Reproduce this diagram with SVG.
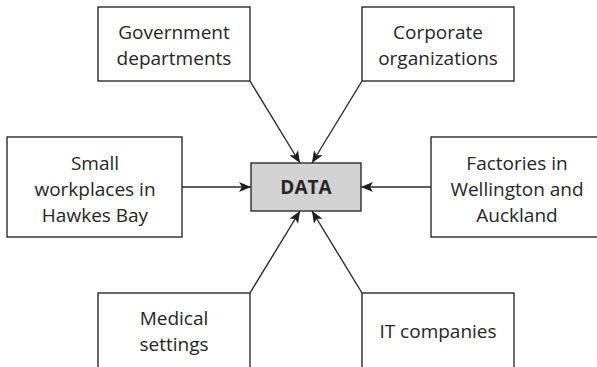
<svg xmlns="http://www.w3.org/2000/svg" width="597" height="367" viewBox="0 0 597 367">
  <style>
    .box { fill: #ffffff; stroke: #2b2b2b; stroke-width: 1.4; }
    .hub { fill: #d3d3d3; stroke: #2b2b2b; stroke-width: 1.4; }
    .lbl { font-family: "Open Sans", "Noto Sans", sans-serif; font-size: 19px; fill: #262626; text-anchor: middle; }
    .hubl { font-family: "Open Sans", "Noto Sans", sans-serif; font-size: 19px; font-weight: bold; fill: #262626; text-anchor: middle; }
    .link { stroke: #2b2b2b; stroke-width: 1.4; fill: none; marker-end: url(#arrow); }
  </style>
  <defs>
    <marker id="arrow" viewBox="0 0 12 10" refX="12" refY="5" markerWidth="12" markerHeight="10" markerUnits="userSpaceOnUse" orient="auto">
      <path d="M0,0 L12,5 L0,10 L3,5 Z" fill="#1e1e1e"/>
    </marker>
  </defs>

  <g id="connectors">
    <line class="link" x1="250" y1="81" x2="300" y2="163"/>
    <line class="link" x1="362" y1="81" x2="312" y2="163"/>
    <line class="link" x1="182" y1="187" x2="251" y2="187"/>
    <line class="link" x1="431" y1="187" x2="361" y2="187"/>
    <line class="link" x1="250" y1="293" x2="300" y2="211"/>
    <line class="link" x1="362" y1="293" x2="312" y2="211"/>
  </g>

  <g id="government">
    <rect class="box" x="98" y="7" width="152" height="74"/>
    <text class="lbl" x="174" y="39">Government</text>
    <text class="lbl" x="174" y="65">departments</text>
  </g>

  <g id="corporate">
    <rect class="box" x="362" y="7" width="152" height="74"/>
    <text class="lbl" x="438" y="39">Corporate</text>
    <text class="lbl" x="438" y="65">organizations</text>
  </g>

  <g id="small-workplaces">
    <rect class="box" x="7" y="137" width="175" height="100"/>
    <text class="lbl" x="95" y="170">Small</text>
    <text class="lbl" x="95" y="196">workplaces in</text>
    <text class="lbl" x="95" y="222">Hawkes Bay</text>
  </g>

  <g id="data">
    <rect class="hub" x="251" y="163" width="110" height="48"/>
    <text class="hubl" x="306" y="194">DATA</text>
  </g>

  <g id="factories">
    <rect class="box" x="431" y="137" width="173" height="100"/>
    <text class="lbl" x="517" y="170">Factories in</text>
    <text class="lbl" x="517" y="196">Wellington and</text>
    <text class="lbl" x="517" y="222">Auckland</text>
  </g>

  <g id="medical">
    <rect class="box" x="98" y="293" width="152" height="80"/>
    <text class="lbl" x="174" y="325">Medical</text>
    <text class="lbl" x="174" y="351">settings</text>
  </g>

  <g id="it-companies">
    <rect class="box" x="362" y="293" width="152" height="80"/>
    <text class="lbl" x="438" y="338">IT companies</text>
  </g>
</svg>
